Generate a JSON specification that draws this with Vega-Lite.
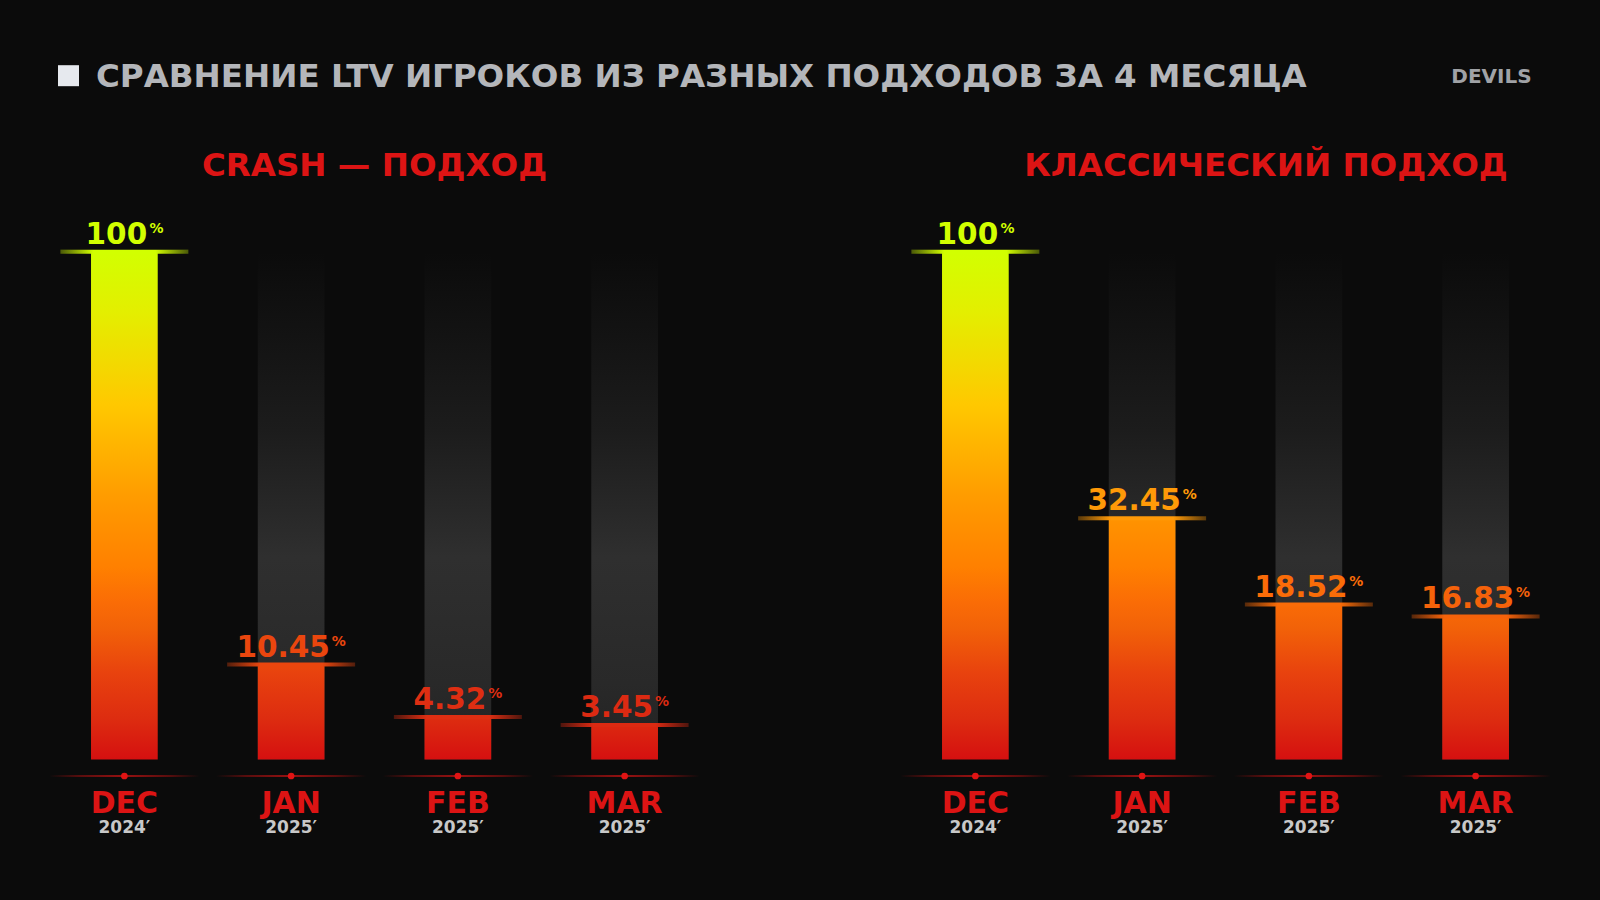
{
  "$schema": "https://vega.github.io/schema/vega-lite/v6.json",
  "width": 1600,
  "height": 900,
  "autosize": {"type": "fit", "contains": "padding"},
  "padding": 0,
  "background": "#0b0b0b",
  "config": {
    "view": {"stroke": null},
    "axis": {"disable": true},
    "legend": {"disable": true},
    "text": {"font": "DejaVu Sans"}
  },
  "datasets": {
    "ltv": [
      {"panel": "CRASH — ПОДХОД", "month": "DEC", "year": "2024′", "value": 100},
      {"panel": "CRASH — ПОДХОД", "month": "JAN", "year": "2025′", "value": 10.45},
      {"panel": "CRASH — ПОДХОД", "month": "FEB", "year": "2025′", "value": 4.32},
      {"panel": "CRASH — ПОДХОД", "month": "MAR", "year": "2025′", "value": 3.45},
      {"panel": "КЛАССИЧЕСКИЙ ПОДХОД", "month": "DEC", "year": "2024′", "value": 100},
      {"panel": "КЛАССИЧЕСКИЙ ПОДХОД", "month": "JAN", "year": "2025′", "value": 32.45},
      {"panel": "КЛАССИЧЕСКИЙ ПОДХОД", "month": "FEB", "year": "2025′", "value": 18.52},
      {"panel": "КЛАССИЧЕСКИЙ ПОДХОД", "month": "MAR", "year": "2025′", "value": 16.83}
    ],
    "header": [
      {"title": "СРАВНЕНИЕ LTV ИГРОКОВ ИЗ РАЗНЫХ ПОДХОДОВ ЗА 4 МЕСЯЦА", "brand": "DEVILS"}
    ]
  },
  "data": {"name": "ltv"},
  "layer": [
    {
      "transform": [{"filter": "datum.month != 'DEC'"}],
      "mark": {"type": "bar", "fill": {"gradient": "linear", "x1": 0, "x2": 0, "y1": 0, "y2": 1, "stops": [
        {"offset": 0, "color": "#0b0b0b"},
        {"offset": 0.08, "color": "#0f0f0f"},
        {"offset": 0.35, "color": "#1c1c1c"},
        {"offset": 0.6, "color": "#2f2f2f"},
        {"offset": 0.85, "color": "#292929"},
        {"offset": 1, "color": "#222222"}]}},
      "encoding": {
        "x": {"field": "panel", "type": "nominal", "axis": null, "scale": {"type": "band", "domain": ["CRASH — ПОДХОД", "КЛАССИЧЕСКИЙ ПОДХОД"], "paddingInner": 0.21622, "paddingOuter": 0.04818}},
        "xOffset": {"field": "month", "type": "nominal", "scale": {"domain": ["DEC", "JAN", "FEB", "MAR"], "paddingInner": 0.6, "paddingOuter": 0.3}},
        "y": {"datum": 100, "type": "quantitative", "axis": null, "scale": {"type": "symlog", "constant": 40, "domain": [-16.61, 221.46], "nice": false, "zero": false}},
        "y2": {"datum": 0}
      }
    },
    {
      "mark": {"type": "bar"},
      "encoding": {
        "x": {"field": "panel", "type": "nominal"},
        "xOffset": {"field": "month", "type": "nominal"},
        "y": {"field": "value", "type": "quantitative"},
        "y2": {"datum": 0},
        "fill": {
          "condition": [
            {"test": "datum.value == 32.45", "value": {"gradient": "linear", "x1": 0, "x2": 0, "y1": -1.109, "y2": 1, "stops": [{"offset": 0, "color": "#d2ff00"}, {"offset": 0.12, "color": "#e4ee00"}, {"offset": 0.3, "color": "#ffc800"}, {"offset": 0.48, "color": "#ff9c00"}, {"offset": 0.62, "color": "#ff8000"}, {"offset": 0.69, "color": "#fa6c06"}, {"offset": 0.74, "color": "#f26208"}, {"offset": 0.83, "color": "#e8420e"}, {"offset": 0.92, "color": "#dd2c10"}, {"offset": 1, "color": "#d51010"}]}},
            {"test": "datum.value == 18.52", "value": {"gradient": "linear", "x1": 0, "x2": 0, "y1": -2.2925, "y2": 1, "stops": [{"offset": 0, "color": "#d2ff00"}, {"offset": 0.12, "color": "#e4ee00"}, {"offset": 0.3, "color": "#ffc800"}, {"offset": 0.48, "color": "#ff9c00"}, {"offset": 0.62, "color": "#ff8000"}, {"offset": 0.69, "color": "#fa6c06"}, {"offset": 0.74, "color": "#f26208"}, {"offset": 0.83, "color": "#e8420e"}, {"offset": 0.92, "color": "#dd2c10"}, {"offset": 1, "color": "#d51010"}]}},
            {"test": "datum.value == 16.83", "value": {"gradient": "linear", "x1": 0, "x2": 0, "y1": -2.567, "y2": 1, "stops": [{"offset": 0, "color": "#d2ff00"}, {"offset": 0.12, "color": "#e4ee00"}, {"offset": 0.3, "color": "#ffc800"}, {"offset": 0.48, "color": "#ff9c00"}, {"offset": 0.62, "color": "#ff8000"}, {"offset": 0.69, "color": "#fa6c06"}, {"offset": 0.74, "color": "#f26208"}, {"offset": 0.83, "color": "#e8420e"}, {"offset": 0.92, "color": "#dd2c10"}, {"offset": 1, "color": "#d51010"}]}},
            {"test": "datum.value == 10.45", "value": {"gradient": "linear", "x1": 0, "x2": 0, "y1": -4.398, "y2": 1, "stops": [{"offset": 0, "color": "#d2ff00"}, {"offset": 0.12, "color": "#e4ee00"}, {"offset": 0.3, "color": "#ffc800"}, {"offset": 0.48, "color": "#ff9c00"}, {"offset": 0.62, "color": "#ff8000"}, {"offset": 0.69, "color": "#fa6c06"}, {"offset": 0.74, "color": "#f26208"}, {"offset": 0.83, "color": "#e8420e"}, {"offset": 0.92, "color": "#dd2c10"}, {"offset": 1, "color": "#d51010"}]}},
            {"test": "datum.value == 4.32", "value": {"gradient": "linear", "x1": 0, "x2": 0, "y1": -11.215, "y2": 1, "stops": [{"offset": 0, "color": "#d2ff00"}, {"offset": 0.12, "color": "#e4ee00"}, {"offset": 0.3, "color": "#ffc800"}, {"offset": 0.48, "color": "#ff9c00"}, {"offset": 0.62, "color": "#ff8000"}, {"offset": 0.69, "color": "#fa6c06"}, {"offset": 0.74, "color": "#f26208"}, {"offset": 0.83, "color": "#e8420e"}, {"offset": 0.92, "color": "#dd2c10"}, {"offset": 1, "color": "#d51010"}]}},
            {"test": "datum.value == 3.45", "value": {"gradient": "linear", "x1": 0, "x2": 0, "y1": -14.142, "y2": 1, "stops": [{"offset": 0, "color": "#d2ff00"}, {"offset": 0.12, "color": "#e4ee00"}, {"offset": 0.3, "color": "#ffc800"}, {"offset": 0.48, "color": "#ff9c00"}, {"offset": 0.62, "color": "#ff8000"}, {"offset": 0.69, "color": "#fa6c06"}, {"offset": 0.74, "color": "#f26208"}, {"offset": 0.83, "color": "#e8420e"}, {"offset": 0.92, "color": "#dd2c10"}, {"offset": 1, "color": "#d51010"}]}}
          ],
          "value": {"gradient": "linear", "x1": 0, "x2": 0, "y1": 0, "y2": 1, "stops": [{"offset": 0, "color": "#d2ff00"}, {"offset": 0.12, "color": "#e4ee00"}, {"offset": 0.3, "color": "#ffc800"}, {"offset": 0.48, "color": "#ff9c00"}, {"offset": 0.62, "color": "#ff8000"}, {"offset": 0.69, "color": "#fa6c06"}, {"offset": 0.74, "color": "#f26208"}, {"offset": 0.83, "color": "#e8420e"}, {"offset": 0.92, "color": "#dd2c10"}, {"offset": 1, "color": "#d51010"}]}
        }
      }
    },
    {
      "mark": {"type": "tick", "size": 128, "thickness": 4, "opacity": 1, "yOffset": -1},
      "encoding": {
        "x": {"field": "panel", "type": "nominal"},
        "xOffset": {"field": "month", "type": "nominal"},
        "y": {"field": "value", "type": "quantitative"},
        "color": {"field": "value", "type": "quantitative", "legend": null, "scale": {"type": "linear", "domain": [3.45, 4.32, 10.45, 16.83, 18.52, 32.45, 100], "range": ["#dc2a12", "#de2e12", "#ea460e", "#f5620a", "#fa6c08", "#ff9a08", "#d2ff00"], "interpolate": "rgb"}}
      }
    },
    {
      "mark": {"type": "tick", "size": 130, "thickness": 5, "yOffset": -1, "fill": {"gradient": "linear", "x1": 0, "x2": 1, "y1": 0, "y2": 0, "stops": [
        {"offset": 0, "color": "rgba(11,11,11,1)"},
        {"offset": 0.26, "color": "rgba(11,11,11,0)"},
        {"offset": 0.74, "color": "rgba(11,11,11,0)"},
        {"offset": 1, "color": "rgba(11,11,11,1)"}]}},
      "encoding": {
        "x": {"field": "panel", "type": "nominal"},
        "xOffset": {"field": "month", "type": "nominal"},
        "y": {"field": "value", "type": "quantitative"}
      }
    },
    {
      "mark": {"type": "tick", "size": 150, "thickness": 2, "yOffset": 16.5, "fill": {"gradient": "linear", "x1": 0, "x2": 1, "y1": 0, "y2": 0, "stops": [
        {"offset": 0, "color": "#0b0b0b"},
        {"offset": 0.2, "color": "#7a0e0e"},
        {"offset": 0.5, "color": "#d41414"},
        {"offset": 0.8, "color": "#7a0e0e"},
        {"offset": 1, "color": "#0b0b0b"}]}},
      "encoding": {
        "x": {"field": "panel", "type": "nominal"},
        "xOffset": {"field": "month", "type": "nominal"},
        "y": {"datum": 0}
      }
    },
    {
      "mark": {"type": "point", "shape": "circle", "filled": true, "size": 45, "opacity": 1, "color": "#e01414", "yOffset": 16.5},
      "encoding": {
        "x": {"field": "panel", "type": "nominal"},
        "xOffset": {"field": "month", "type": "nominal"},
        "y": {"datum": 0}
      }
    },
    {
      "mark": {"type": "text", "fontSize": 29.5, "fontWeight": "bold", "align": "center", "baseline": "alphabetic", "dx": -8, "dy": -9},
      "encoding": {
        "x": {"field": "panel", "type": "nominal"},
        "xOffset": {"field": "month", "type": "nominal"},
        "y": {"field": "value", "type": "quantitative"},
        "text": {"field": "value", "type": "quantitative", "format": ".2~f"},
        "color": {"field": "value", "type": "quantitative"}
      }
    },
    {
      "transform": [{"filter": "datum.value >= 100"}],
      "mark": {"type": "text", "fontSize": 14, "fontWeight": "bold", "align": "left", "baseline": "alphabetic", "dx": 25, "dy": -20},
      "encoding": {
        "x": {"field": "panel", "type": "nominal"},
        "xOffset": {"field": "month", "type": "nominal"},
        "y": {"field": "value", "type": "quantitative"},
        "text": {"value": "%"},
        "color": {"field": "value", "type": "quantitative"}
      }
    },
    {
      "transform": [{"filter": "datum.value >= 10 && datum.value < 100"}],
      "mark": {"type": "text", "fontSize": 14, "fontWeight": "bold", "align": "left", "baseline": "alphabetic", "dx": 40.5, "dy": -20},
      "encoding": {
        "x": {"field": "panel", "type": "nominal"},
        "xOffset": {"field": "month", "type": "nominal"},
        "y": {"field": "value", "type": "quantitative"},
        "text": {"value": "%"},
        "color": {"field": "value", "type": "quantitative"}
      }
    },
    {
      "transform": [{"filter": "datum.value < 10"}],
      "mark": {"type": "text", "fontSize": 14, "fontWeight": "bold", "align": "left", "baseline": "alphabetic", "dx": 30.5, "dy": -20},
      "encoding": {
        "x": {"field": "panel", "type": "nominal"},
        "xOffset": {"field": "month", "type": "nominal"},
        "y": {"field": "value", "type": "quantitative"},
        "text": {"value": "%"},
        "color": {"field": "value", "type": "quantitative"}
      }
    },
    {
      "mark": {"type": "text", "fontSize": 30, "fontWeight": "bold", "align": "center", "baseline": "alphabetic", "dy": 54, "color": "#dc1414"},
      "encoding": {
        "x": {"field": "panel", "type": "nominal"},
        "xOffset": {"field": "month", "type": "nominal"},
        "y": {"datum": 0},
        "text": {"field": "month", "type": "nominal"}
      }
    },
    {
      "mark": {"type": "text", "fontSize": 17, "fontWeight": "bold", "align": "center", "baseline": "alphabetic", "dy": 74, "color": "#c8c8c8"},
      "encoding": {
        "x": {"field": "panel", "type": "nominal"},
        "xOffset": {"field": "month", "type": "nominal"},
        "y": {"datum": 0},
        "text": {"field": "year", "type": "nominal"}
      }
    },
    {
      "transform": [{"filter": "datum.month == 'DEC' && datum.panel == 'CRASH — ПОДХОД'"}],
      "mark": {"type": "text", "fontSize": 32.5, "fontWeight": "bold", "align": "center", "baseline": "alphabetic", "dy": -77, "color": "#dc1414"},
      "encoding": {
        "x": {"field": "panel", "type": "nominal"},
        "y": {"datum": 100},
        "text": {"field": "panel", "type": "nominal"}
      }
    },
    {
      "transform": [{"filter": "datum.month == 'DEC' && datum.panel == 'КЛАССИЧЕСКИЙ ПОДХОД'"}],
      "mark": {"type": "text", "fontSize": 32.5, "fontWeight": "bold", "align": "center", "baseline": "alphabetic", "dx": 40.5, "dy": -77, "color": "#dc1414"},
      "encoding": {
        "x": {"field": "panel", "type": "nominal"},
        "y": {"datum": 100},
        "text": {"field": "panel", "type": "nominal"}
      }
    },
    {
      "data": {"name": "header"},
      "mark": {"type": "text", "fontSize": 32.5, "fontWeight": "bold", "align": "left", "baseline": "alphabetic", "dx": -278.5, "dy": -166, "color": "#b4b6ba"},
      "encoding": {
        "x": {"datum": "CRASH — ПОДХОД"},
        "y": {"datum": 100},
        "text": {"field": "title", "type": "nominal"}
      }
    },
    {
      "data": {"name": "header"},
      "mark": {"type": "point", "shape": "square", "filled": true, "size": 441, "opacity": 1, "color": "#e6e9ee", "xOffset": -306, "yOffset": -177},
      "encoding": {
        "x": {"datum": "CRASH — ПОДХОД"},
        "y": {"datum": 100}
      }
    },
    {
      "data": {"name": "header"},
      "mark": {"type": "text", "fontSize": 20, "fontWeight": "bold", "align": "center", "baseline": "alphabetic", "dx": 266, "dy": -170, "color": "#a0a2a6"},
      "encoding": {
        "x": {"datum": "КЛАССИЧЕСКИЙ ПОДХОД"},
        "y": {"datum": 100},
        "text": {"field": "brand", "type": "nominal"}
      }
    }
  ]
}
